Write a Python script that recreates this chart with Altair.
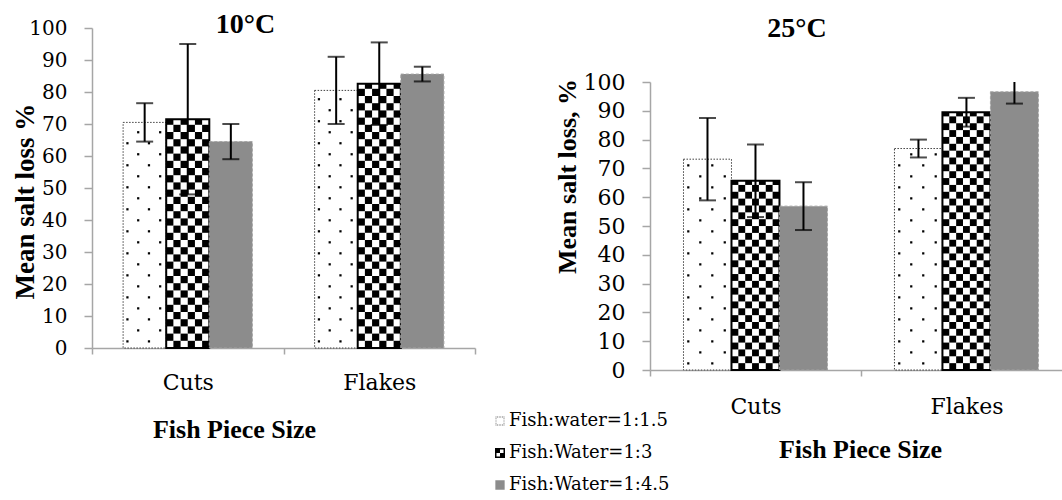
import altair as alt
import pandas as pd

sizes = ["Cuts", "Flakes"]
ratios = ["Fish:water=1:1.5", "Fish:Water=1:3", "Fish:Water=1:4.5"]

# 10 °C: mean salt loss (%) and error bar half-width, one value per ratio
cuts_10 = [70.5, 71.5, 64.5]
cuts_10_err = [6.0, 23.5, 5.5]
flakes_10 = [80.5, 82.6, 85.6]
flakes_10_err = [10.5, 12.9, 2.3]

# 25 °C
cuts_25 = [73.2, 65.7, 56.9]
cuts_25_err = [14.3, 12.6, 8.3]
flakes_25 = [76.9, 89.5, 96.6]
flakes_25_err = [3.1, 5.0, 4.1]

y_ticks = list(range(0, 101, 10))

AXIS_GRAY = "#a6a6a6"
GRAY_FILL = "#8c8c8c"
SERIF = "DejaVu Serif"
TIMES = "Liberation Serif"


def bar_table(means, errs, bar_w):
    rows = []
    for i, size in enumerate(sizes):
        centre = i + 0.5
        for k, ratio in enumerate(ratios):
            x0 = centre + (k - 1.5) * bar_w
            m, e = means[i][k], errs[i][k]
            rows.append(dict(size=size, ratio=ratio, x0=x0, x1=x0 + bar_w,
                             xc=x0 + bar_w / 2, base=0.0, mean=m, lo=m - e, hi=m + e))
    return pd.DataFrame(rows)


def cap_table(tbl):
    lo = tbl[["xc", "lo"]].rename(columns={"lo": "y"})
    hi = tbl[["xc", "hi"]].rename(columns={"hi": "y"})
    return pd.concat([lo, hi], ignore_index=True)


def checker_cells(tbl, ncols, row_h):
    rows = []
    for _, b in tbl[tbl.ratio == ratios[1]].iterrows():
        cw = (b.x1 - b.x0) / ncols
        r = 0
        while r * row_h < b["mean"]:
            for c in range(ncols):
                if (r + c) % 2 == 1:
                    rows.append(dict(x0=b.x0 + c * cw, x1=b.x0 + (c + 1) * cw,
                                     y0=r * row_h, y1=min((r + 1) * row_h, b["mean"])))
            r += 1
    return pd.DataFrame(rows)


def dot_cells(tbl, step):
    rows = []
    for _, b in tbl[tbl.ratio == ratios[0]].iterrows():
        w = b.x1 - b.x0
        r = 0
        y = step * 0.6
        while y < b["mean"] - step * 0.3:
            for f in ((0.1, 0.6) if r % 2 == 0 else (0.35, 0.86)):
                rows.append(dict(x=b.x0 + f * w, y=y))
            y += step
            r += 1
    return pd.DataFrame(rows)


def square_path(h):
    return f"M{-h},{-h}H{h}V{h}H{-h}Z"


def dotted_square_path(h=0.8, d=0.08, n=6):
    parts = []
    pts = [-h + 2 * h * i / (n - 1) for i in range(n)]
    for t in pts:
        for cx, cy in ((t, -h), (t, h), (-h, t), (h, t)):
            parts.append(f"M{cx - d:.3f},{cy - d:.3f}h{2 * d}v{2 * d}h{-2 * d}Z")
    return "".join(parts)


checker_icon = ("M-1,-1H1V1H-1Z" "M-0.7,-0.7V0.7H0.7V-0.7Z"
                "M-0.7,-0.7H0V0H-0.7Z" "M0,0H0.7V0.7H0Z")
legend_shapes = [dotted_square_path(), checker_icon, square_path(0.93)]
legend_fills = ["#555555", "#000000", GRAY_FILL]


def panel(means, errs, cfg, with_legend=False):
    tbl = bar_table(means, errs, cfg["bar_w"])
    xs = alt.Scale(domain=[0, cfg["x_max"]], nice=False, zero=False)
    ys = alt.Scale(domain=[0, 100], nice=False)

    label_expr = "".join(f"datum.value == {i + 0.5} ? '{s}' : " for i, s in enumerate(sizes)) + "''"
    x_vals = [v / 2 for v in range(0, 5) if v / 2 <= cfg["x_max"]]
    x_axis = alt.Axis(
        values=x_vals, labelExpr=label_expr, grid=False,
        tickOpacity={"condition": {"test": "datum.value % 1 != 0", "value": 0}, "value": 1},
        tickSize=6, tickColor=AXIS_GRAY, tickWidth=1.5,
        domainColor=AXIS_GRAY, domainWidth=1.5,
        labelFont=SERIF, labelFontSize=cfg["xlabel_size"], labelColor="black",
        labelPadding=cfg["xlabel_pad"], labelFlush=False, labelOverlap=False,
        title="Fish Piece Size", titleFont=TIMES, titleFontSize=26, titleFontWeight="bold",
        titleColor="black", titleX=cfg["xtitle_x"], titleY=cfg["xtitle_y"],
        titleBaseline="alphabetic",
    )
    y_axis = alt.Axis(
        values=y_ticks, grid=False, tickSize=8, tickColor=AXIS_GRAY, tickWidth=1.5,
        domainColor=AXIS_GRAY, domainWidth=1.5,
        labelFont=SERIF, labelFontSize=cfg["ylabel_size"], labelColor="black",
        labelPadding=cfg["ylabel_pad"], labelFlush=False,
        title=cfg["ytitle"], titleFont=TIMES, titleFontSize=cfg["ytitle_size"],
        titleFontWeight="bold", titleColor="black",
        titleX=cfg["ytitle_x"], titleY=cfg["ytitle_y"], titleBaseline="alphabetic",
    )

    # every layer carries the same axis definition so the shared axes merge cleanly
    def xq(field):
        return alt.X(f"{field}:Q", scale=xs, axis=x_axis)

    def yq(field):
        return alt.Y(f"{field}:Q", scale=ys, axis=y_axis)

    dotted = alt.Chart(tbl[tbl.ratio == ratios[0]]).mark_rect(
        fill="white", stroke="#404040", strokeWidth=1, strokeDash=[1.5, 1.5]
    ).encode(x=xq("x0"), x2="x1", y=yq("base"), y2="mean")

    dots = alt.Chart(dot_cells(tbl, cfg["dot_step"])).mark_square(
        size=5, color="black", opacity=1
    ).encode(x=xq("x"), y=yq("y"))

    check_bars = tbl[tbl.ratio == ratios[1]]
    check_base = alt.Chart(check_bars).mark_rect(fill="white").encode(
        x=xq("x0"), x2="x1", y=yq("base"), y2="mean")
    check_cells = alt.Chart(checker_cells(tbl, cfg["ncols"], cfg["row_h"])).mark_rect(
        fill="black").encode(x=xq("x0"), x2="x1", y=yq("y0"), y2="y1")
    check_edge = alt.Chart(check_bars).mark_rect(
        fill="white", fillOpacity=0, stroke="black", strokeWidth=2
    ).encode(x=xq("x0"), x2="x1", y=yq("base"), y2="mean")

    gray = alt.Chart(tbl[tbl.ratio == ratios[2]]).mark_rect(
        fill=GRAY_FILL, stroke="#a3a3a3", strokeWidth=1, strokeDash=[3, 2]
    ).encode(x=xq("x0"), x2="x1", y=yq("base"), y2="mean")

    err = alt.Chart(tbl).mark_rule(color="black", strokeWidth=2, clip=True).encode(
        x=xq("xc"), y=yq("lo"), y2="hi")
    caps = alt.Chart(cap_table(tbl)).mark_tick(
        orient="horizontal", size=17, thickness=2, color="black", clip=True
    ).encode(x=xq("xc"), y=yq("y"))

    layers = [dotted, dots, check_base, check_cells, check_edge, gray, err, caps]

    if with_legend:
        lg = alt.Legend(
            orient="none", legendX=cfg["legend_x"], legendY=cfg["legend_y"], title=None,
            direction="vertical", padding=0, labelFont=SERIF, labelFontSize=18,
            labelColor="black", labelOffset=0, labelLimit=400, rowPadding=14, clipHeight=18,
            symbolOpacity=1, symbolStrokeWidth=0,
        )
        key = alt.Chart(tbl).mark_point(filled=True, opacity=0, size=196).encode(
            x=xq("xc"), y=yq("mean"),
            shape=alt.Shape("ratio:N", scale=alt.Scale(domain=ratios, range=legend_shapes), legend=lg),
            fill=alt.Fill("ratio:N", scale=alt.Scale(domain=ratios, range=legend_fills), legend=lg),
        )
        layers.append(key)

    return alt.layer(*layers).properties(
        width=cfg["width"], height=cfg["height"],
        title=alt.Title(
            cfg["title"], font=TIMES, fontSize=cfg["title_size"], fontWeight="bold",
            color="black", anchor="middle", frame="group", baseline="alphabetic",
            offset=0, dx=cfg["title_dx"], dy=cfg["title_dy"],
        ),
    )


left_cfg = dict(
    bar_w=0.225, x_max=2.0, width=383, height=320, ncols=6, row_h=2.25, dot_step=3.44,
    xlabel_size=22, xlabel_pad=18, xtitle_x=142, xtitle_y=89,
    ylabel_size=20, ylabel_pad=17, ytitle="Mean salt loss %", ytitle_size=27,
    ytitle_x=-59, ytitle_y=173,
    title="10°C", title_size=28, title_dx=-38, title_dy=43,
    legend_x=399, legend_y=384,
)
right_cfg = dict(
    bar_w=0.2275, x_max=1.953, width=412, height=288, ncols=7, row_h=2.38, dot_step=3.82,
    xlabel_size=22, xlabel_pad=20, xtitle_x=210, xtitle_y=87,
    ylabel_size=22, ylabel_pad=17, ytitle="Mean salt loss, %", ytitle_size=26,
    ytitle_x=-75, ytitle_y=94,
    title="25°C", title_size=28, title_dx=-59, title_dy=-6,
)

left = panel([cuts_10, flakes_10], [cuts_10_err, flakes_10_err], left_cfg, with_legend=True)
right = panel([cuts_25, flakes_25], [cuts_25_err, flakes_25_err], right_cfg)

# empty strip that lowers the 25 °C panel below the 10 °C one
spacer = alt.Chart(pd.DataFrame({"s": [0]})).mark_point(opacity=0).encode(
    x=alt.value(0), y=alt.value(0)).properties(width=412, height=54)

right_col = alt.concat(spacer, right, columns=1, spacing=0, bounds="flush", align="none")

chart = alt.concat(left, right_col, columns=2, spacing=175, bounds="flush", align="none").properties(
    padding={"left": 11, "top": 11, "right": 0, "bottom": 0}
).configure_view(stroke=None)

chart.save("out.html", embed_options={"renderer": "svg", "actions": False})
